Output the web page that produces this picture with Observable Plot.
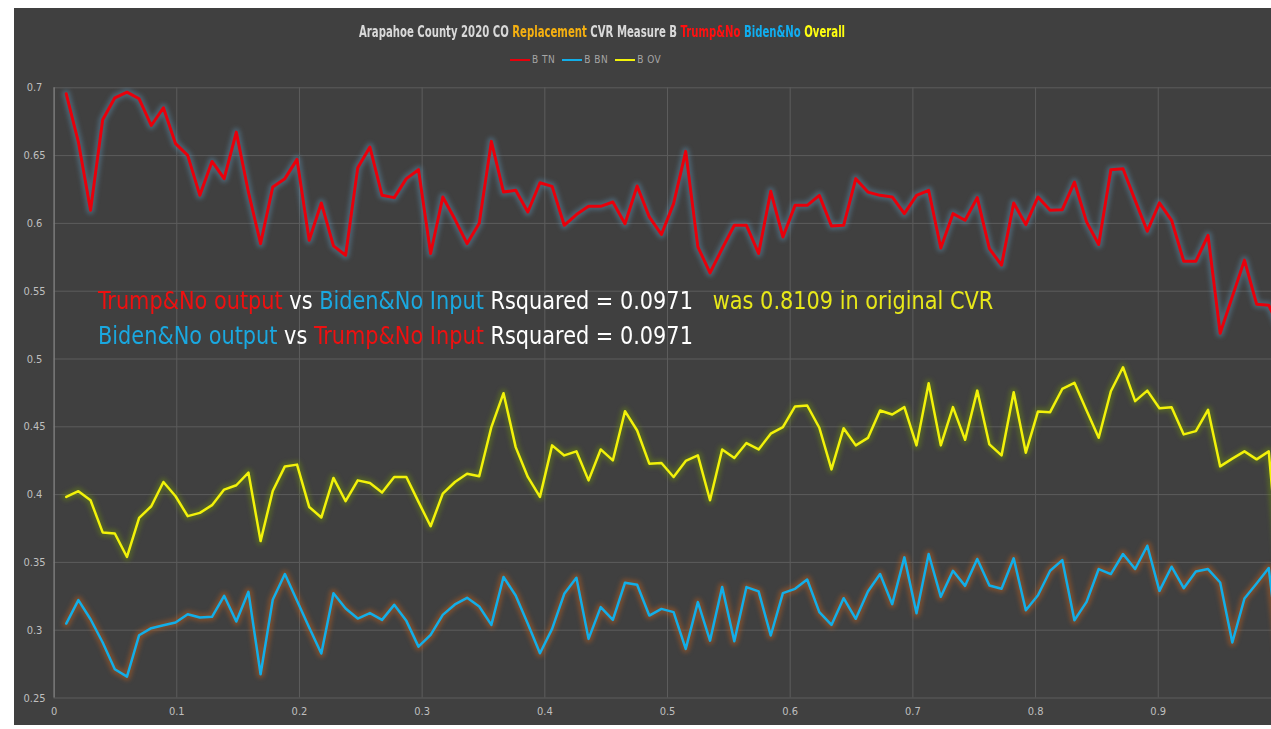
<!DOCTYPE html>
<html>
<head>
<meta charset="utf-8">
<script src="https://cdn.jsdelivr.net/npm/d3@7"></script>
<script src="https://cdn.jsdelivr.net/npm/@observablehq/plot@0.6"></script>
<style>
  html, body { margin: 0; padding: 0; background: #ffffff; }
  body { width: 1271px; height: 729px; position: relative; overflow: hidden; }
  #panel { position: absolute; left: 14px; top: 8px; width: 1257px; height: 717px; background: #404040; overflow: hidden; }
  .narrow { font-family: "Liberation Sans Narrow", "Arial Narrow", "DejaVu Sans Condensed", sans-serif; font-stretch: condensed; }
  #title { position: absolute; left: 0; top: 14px; width: 1176px; text-align: center; white-space: nowrap; }
  #title span.inner { display: inline-block; font-size: 15px; font-weight: bold; color: #d9d9d9; transform: scaleX(0.75); transform-origin: center; }
  #legend { position: absolute; left: 496px; top: 46px; font-size: 10px; color: #a6a6a6; white-space: nowrap; letter-spacing: 0.5px; }
  #legend .sw { display: inline-block; width: 20px; height: 2px; vertical-align: middle; margin-right: 2px; margin-left: 7px; }
  #legend .sw:first-child { margin-left: 0; }
  #chart { position: absolute; left: -14px; top: -8px; }
  #note { position: absolute; left: 84px; top: 276px; font-size: 24px; line-height: 35px; color: #ffffff; white-space: pre; transform: scaleX(0.966); transform-origin: left top; }
</style>
</head>
<body>
<div id="panel">
  <div id="chart"></div>
  <div id="title" class="narrow"><span class="inner" id="titleText"></span></div>
  <div id="legend" class="narrow"></div>
  <div id="note" class="narrow"></div>
</div>
<script>
// ---- data ----
// bin number along the x-axis (x value = bin / 101)
const bins = d3.range(1, 102);
const btn = [0.6956,0.660,0.6097,0.6764,0.6926,0.6968,0.6919,0.6722,0.6853,0.6588,
0.6502,0.6207,0.6457,0.6330,0.6673,0.623,0.5851,0.6268,0.6330,0.6472,
0.5876,0.6151,0.5834,0.5765,0.6411,0.6563,0.6207,0.6190,0.6330,0.6396,
0.5778,0.6195,0.603,0.5851,0.6001,0.6605,0.6231,0.6244,0.6084,0.6300,
0.6273,0.5986,0.6065,0.6126,0.6126,0.6158,0.5998,0.6276,0.6048,0.5918,
0.6146,0.6531,0.5827,0.5635,0.5814,0.5986,0.5986,0.5778,0.6237,0.5900,
0.6133,0.6133,0.6207,0.5981,0.5986,0.6330,0.6231,0.6207,0.6195,0.6072,
0.6207,0.6244,0.5819,0.6072,0.6023,0.6190,0.5814,0.5692,0.6151,0.5991,
0.6195,0.6097,0.6101,0.6305,0.6011,0.5844,0.6396,0.6403,0.6170,0.5942,
0.6151,0.6023,0.5721,0.5721,0.5912,0.519,0.546,0.5729,0.5404,0.5397,
0.52];
const bbn = [0.3049,0.3222,0.3081,0.2909,0.2712,0.2658,0.2963,0.3015,0.3037,0.3057,
0.3118,0.3094,0.3099,0.3254,0.3064,0.3283,0.2675,0.3224,0.3414,0.3217,
0.3020,0.2828,0.3273,0.3160,0.3086,0.3126,0.3076,0.3187,0.3069,0.2879,
0.2966,0.3113,0.3190,0.3239,0.3175,0.3039,0.3392,0.3256,0.3047,0.2830,
0.3010,0.3268,0.3387,0.2936,0.3170,0.3076,0.3350,0.3335,0.3108,0.3157,
0.3133,0.2862,0.3207,0.2923,0.3318,0.2918,0.3318,0.3286,0.2961,0.3273,
0.3305,0.3374,0.3133,0.3039,0.3236,0.3084,0.3285,0.3414,0.3192,0.3537,
0.3125,0.3562,0.3246,0.3438,0.3327,0.3525,0.3330,0.3306,0.3530,0.3147,
0.3258,0.3438,0.3517,0.3073,0.3209,0.3451,0.3414,0.3562,0.3451,0.3623,
0.3290,0.3468,0.3310,0.3433,0.3451,0.3352,0.2909,0.3234,0.3345,0.3458,
0.27];
const bov = [0.3983,0.4025,0.3958,0.3721,0.3713,0.354,0.3828,0.3914,0.4093,0.3988,
0.3841,0.3865,0.3922,0.4037,0.4069,0.4162,0.3657,0.4027,0.4208,0.4221,
0.3909,0.3831,0.4123,0.3951,0.4105,0.4086,0.4015,0.4130,0.4130,0.3946,
0.3767,0.4007,0.4093,0.4154,0.4135,0.4498,0.4748,0.4350,0.4130,0.3983,
0.4363,0.4289,0.4319,0.4105,0.4333,0.4252,0.4615,0.4473,0.4228,0.4233,
0.4130,0.4248,0.4289,0.3958,0.4333,0.4270,0.4380,0.4333,0.4449,0.4498,
0.4650,0.4657,0.4493,0.4186,0.4490,0.4363,0.4418,0.4620,0.4591,0.4645,
0.4363,0.4821,0.4363,0.4645,0.4404,0.4767,0.4370,0.4289,0.4755,0.4309,
0.4613,0.4608,0.4779,0.4824,0.4620,0.4419,0.4762,0.4939,0.4689,0.4767,
0.4637,0.4645,0.4444,0.4468,0.4625,0.4208,0.4265,0.4319,0.4260,0.4319,
0.33];
const xTicks = [0, 0.1, 0.2, 0.3, 0.4, 0.5, 0.6, 0.7, 0.8, 0.9];
const yTicks = [0.25, 0.3, 0.35, 0.4, 0.45, 0.5, 0.55, 0.6, 0.65, 0.7];
const seriesNames = ["BTN", "BBN", "BOV"];
const legendLabels = ["B TN", "B BN", "B OV"];
const seriesColors = ["#e8000b", "#12aee8", "#f2f20a"];
const glowColors = ["#5a8fb0", "#c0601a", "#6a8a10"];

// ---- build table ----
const seriesValues = [btn, bbn, bov];
const rows = [];
seriesNames.forEach((s, k) => {
  seriesValues[k].forEach((v, i) => rows.push({series: s, x: bins[i] / 101, y: v}));
});

const plot = Plot.plot({
  width: 1271,
  height: 729,
  marginLeft: 53.6,
  marginRight: 0,
  marginTop: 87.3,
  marginBottom: 31.5,
  style: {background: "transparent", color: "#bfbfbf", fontFamily: "Liberation Sans Narrow, DejaVu Sans Condensed, sans-serif", fontSize: "11px"},
  x: {domain: [0, 0.99233], label: null},
  y: {domain: [0.25, 0.7], label: null},
  marks: [
    Plot.gridX(xTicks, {stroke: "#5c5c5c", strokeOpacity: 1, strokeWidth: 1}),
    Plot.gridY(yTicks, {stroke: "#5c5c5c", strokeOpacity: 1, strokeWidth: 1}),
    Plot.ruleX([0], {stroke: "#8c8c8c", strokeWidth: 1}),
    Plot.axisX(xTicks, {tickSize: 0, tickPadding: 9, fill: "#bfbfbf", tickFormat: d => String(d)}),
    Plot.axisY(yTicks, {tickSize: 0, tickPadding: 19.6, textAnchor: "middle", fill: "#bfbfbf", tickFormat: d => String(d)}),
    ...seriesNames.map((s, k) => Plot.line(rows.filter(r => r.series === s), {
      x: "x", y: "y", stroke: glowColors[k], strokeWidth: 8, strokeOpacity: 0.45,
      clip: true, imageFilter: "blur(2px)", strokeLinejoin: "round"
    })),
    ...seriesNames.map((s, k) => Plot.line(rows.filter(r => r.series === s), {
      x: "x", y: "y", stroke: seriesColors[k], strokeWidth: k === 0 ? 3 : 2.5,
      clip: true, strokeLinejoin: "round"
    }))
  ]
});
document.getElementById("chart").appendChild(plot);

// title
document.getElementById("titleText").innerHTML =
  'Arapahoe County 2020 CO <span style="color:#f5b010">Replacement</span> CVR Measure B ' +
  '<span style="color:#ff1010">Trump&amp;No</span> <span style="color:#10aef0">Biden&amp;No</span> ' +
  '<span style="color:#ffff10">Overall</span>';

// legend
document.getElementById("legend").innerHTML = legendLabels.map((s, k) =>
  `<span class="sw" style="background:${seriesColors[k]}"></span>${s}`
).join("");

// annotation
const red = "#ee1010", blue = "#1aa8e0", yel = "#e8e81a";
document.getElementById("note").innerHTML =
  `<span style="color:${red}">Trump&amp;No output</span> vs <span style="color:${blue}">Biden&amp;No Input</span> Rsquared = 0.0971   <span style="color:${yel}">was 0.8109 in original CVR</span>\n` +
  `<span style="color:${blue}">Biden&amp;No output</span> vs <span style="color:${red}">Trump&amp;No Input</span> Rsquared = 0.0971`;
</script>
</body>
</html>
